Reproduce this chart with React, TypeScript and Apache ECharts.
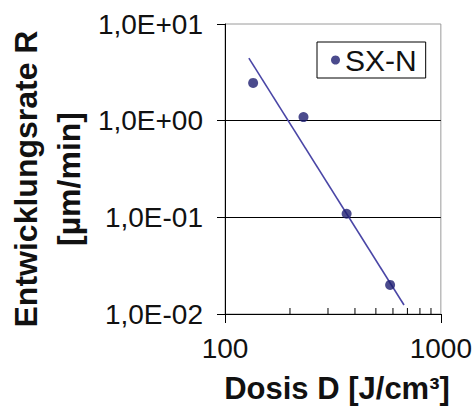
import React, { useEffect, useRef } from "react";
import * as echarts from "echarts";

const doseValues = [135, 231, 366, 582];
const rateValues = [2.46, 1.09, 0.109, 0.02];
const fitDose = [129, 675];
const fitRate = [4.43, 0.0124];
const minorTickDose = [200, 300, 400, 500, 600, 700, 800, 900];
const seriesName = "SX-N";
const xTitle = "Dosis D [J/cm³]";
const yTitleLines = ["Entwicklungsrate R", "[µm/min]"];

const FONT = "'Liberation Sans', Arial, Helvetica, sans-serif";

function fmtSci(v: number): string {
  const e = Math.round(Math.log10(v));
  const a = Math.abs(e);
  return "1,0E" + (e >= 0 ? "+" : "-") + (a < 10 ? "0" + a : String(a));
}

export default function App() {
  const ref = useRef<HTMLDivElement>(null);
  useEffect(() => {
    if (!ref.current) return;
    const chart = echarts.init(ref.current, undefined, { renderer: "svg" });
    const option: any = {
      animation: false,
      backgroundColor: "#fff",
      grid: {
        left: 225,
        right: 33,
        top: 24,
        bottom: 94,
        show: true,
        borderColor: "#9a9a9a",
        borderWidth: 1,
      },
      legend: {
        data: [seriesName],
        left: 317,
        top: 42,
        orient: "vertical",
        borderColor: "#000",
        borderWidth: 1,
        padding: [3, 9, 3, 14],
        itemWidth: 9,
        itemHeight: 9,
        icon: "circle",
        textStyle: { fontFamily: FONT, fontSize: 30, color: "#111" },
      },
      xAxis: {
        type: "log",
        logBase: 10,
        min: 100,
        max: 1000,
        axisLine: { show: true, lineStyle: { color: "#000", width: 1 } },
        axisTick: { show: true, length: 9, lineStyle: { color: "#000" } },
        axisLabel: {
          fontFamily: FONT,
          fontSize: 28,
          color: "#111",
          margin: 20,
          formatter: (v: number) => String(Math.round(v)),
        },
        splitLine: { show: false },
      },
      yAxis: {
        type: "log",
        logBase: 10,
        min: 0.01,
        max: 10,
        axisLine: { show: true, lineStyle: { color: "#000", width: 1 } },
        axisTick: { show: true, length: 8, lineStyle: { color: "#000" } },
        axisLabel: {
          fontFamily: FONT,
          fontSize: 28,
          color: "#111",
          margin: 22,
          formatter: (v: number) => fmtSci(v),
        },
        splitLine: {
          show: true,
          showMinLine: false,
          showMaxLine: false,
          lineStyle: { color: "#000", width: 1 },
        },
      },
      series: [
        {
          name: "fit",
          type: "line",
          data: fitDose.map((d, i) => [d, fitRate[i]]),
          symbol: "none",
          lineStyle: { color: "#4a46a6", width: 1.6 },
          z: 2,
        },
        {
          name: seriesName,
          type: "scatter",
          data: doseValues.map((d, i) => [d, rateValues[i]]),
          symbol: "circle",
          symbolSize: 10,
          itemStyle: { color: "#1e1e70" },
          z: 3,
        },
        {
          name: "minorTicks",
          type: "custom",
          clip: false,
          silent: true,
          data: minorTickDose.map((d) => [d, 0.01]),
          renderItem: (params: any, api: any) => {
            const p = api.coord([api.value(0), api.value(1)]);
            return {
              type: "line",
              shape: { x1: p[0], y1: p[1], x2: p[0], y2: p[1] - 6 },
              style: { stroke: "#000", lineWidth: 1 },
            };
          },
          z: 4,
        },
      ],
      graphic: [
        {
          type: "text",
          x: 337,
          y: 388,
          style: {
            text: xTitle,
            font: "bold 31px " + FONT,
            fill: "#111",
            textAlign: "center",
            textVerticalAlign: "middle",
          },
        },
        {
          type: "text",
          x: 47,
          y: 179,
          rotation: Math.PI / 2,
          style: {
            text: yTitleLines.join("\n"),
            font: "bold 32px " + FONT,
            lineHeight: 43,
            fill: "#111",
            textAlign: "center",
            textVerticalAlign: "middle",
          },
        },
      ],
    };
    chart.setOption(option);
    return () => chart.dispose();
  }, []);
  return (
    <div
      ref={ref}
      style={{ width: 475, height: 408, position: "absolute", left: 0, top: 0 }}
    />
  );
}
